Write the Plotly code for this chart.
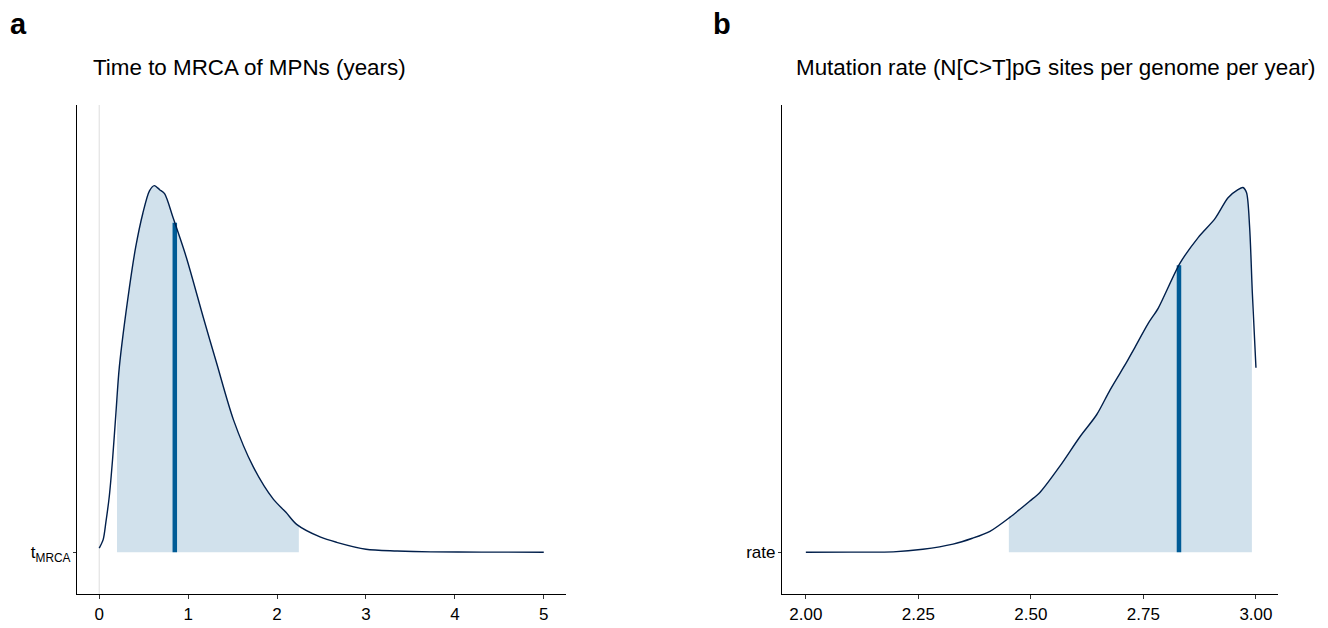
import numpy as np
import plotly.graph_objects as go
from plotly.subplots import make_subplots

# posterior density of time to MRCA (years), scaled height
tmrca_x = [0.0, 0.045, 0.075, 0.113, 0.15, 0.188, 0.226, 0.34, 0.41, 0.49, 0.565, 0.62,
           0.68, 0.735, 0.83, 0.98, 1.17, 1.32, 1.51, 1.73, 1.96, 2.10, 2.22, 2.49, 2.67,
           3.0, 3.35, 3.73, 4.3, 5.0]
tmrca_dens = [0.011, 0.035, 0.082, 0.152, 0.253, 0.380, 0.505, 0.723, 0.832, 0.924, 0.986,
              1.000, 0.989, 0.978, 0.913, 0.804, 0.641, 0.516, 0.361, 0.234, 0.144, 0.109,
              0.076, 0.041, 0.027, 0.008, 0.0035, 0.001, 0.0003, 0.0]
tmrca_interval = [0.20, 2.245]
tmrca_median = 0.85

# posterior density of mutation rate
rate_x = [2.0, 2.10, 2.194, 2.26, 2.327, 2.37, 2.409, 2.453, 2.497, 2.52, 2.564, 2.609,
          2.646, 2.676, 2.713, 2.728, 2.761, 2.783, 2.831, 2.872, 2.909, 2.938, 2.960,
          2.971, 2.979, 2.986, 2.992, 3.0]
rate_dens = [0.0, 0.0003, 0.001, 0.008, 0.022, 0.038, 0.057, 0.095, 0.139, 0.163, 0.234,
             0.315, 0.375, 0.443, 0.519, 0.552, 0.625, 0.666, 0.788, 0.859, 0.910, 0.967,
             0.989, 0.995, 0.981, 0.886, 0.707, 0.503]
rate_interval = [2.451, 2.991]
rate_median = 2.829

titles = ["Time to MRCA of MPNs (years)",
          "Mutation rate (N[C>T]pG sites per genome per year)"]
panel_tags = ["a", "b"]
param_labels = ["t<sub>MRCA</sub>", "rate"]

DARK = "#011f4b"
MID = "#005b96"
LIGHT = "#d1e1ec"
FONT = "Liberation Sans, Arial, sans-serif"

fig = make_subplots(rows=1, cols=2)


def add_area(col, xs, ys, interval, median):
    xs = np.asarray(xs)
    ys = np.asarray(ys)
    lo, hi = interval
    inside = (xs > lo) & (xs < hi)
    fx = np.concatenate([[lo], xs[inside], [hi]])
    fy = np.concatenate([[np.interp(lo, xs, ys)], ys[inside], [np.interp(hi, xs, ys)]])
    fig.add_trace(go.Scatter(x=fx, y=fy, mode="lines", fill="tozeroy",
                             fillcolor=LIGHT, line=dict(width=0, shape="spline", smoothing=0.8),
                             hoverinfo="skip", showlegend=False), row=1, col=col)
    mh = np.interp(median, xs, ys)
    fig.add_trace(go.Scatter(x=[median, median], y=[0, mh], mode="lines",
                             line=dict(color=MID, width=4.5), showlegend=False),
                  row=1, col=col)
    fig.add_trace(go.Scatter(x=xs, y=ys, mode="lines",
                             line=dict(color=DARK, width=1.4, shape="spline", smoothing=0.8),
                             showlegend=False), row=1, col=col)


add_area(1, tmrca_x, tmrca_dens, tmrca_interval, tmrca_median)
add_area(2, rate_x, rate_dens, rate_interval, rate_median)

# vertical reference line at zero
fig.add_shape(type="line", x0=0, x1=0, y0=0, y1=1, xref="x", yref="y domain",
              line=dict(color="#e3e3e3", width=1.2), layer="below")

# page has an 8px body margin, so figure coords = screen coords - 8
W, H = 1320, 620
ydom = [(H - 586) / H, (H - 97) / H]
yrange = [-0.114, 1.220]
axis_common = dict(showline=True, linecolor="black", linewidth=1.2, ticks="outside",
                   tickcolor="#333", tickwidth=1, showgrid=False, zeroline=False,
                   tickfont=dict(family=FONT, size=17, color="black"), automargin=False)

fig.update_layout(
    width=W, height=H, margin=dict(l=0, r=0, t=0, b=0),
    plot_bgcolor="white", paper_bgcolor="white",
    xaxis=dict(domain=[69 / W, 558 / W], range=[-0.25, 5.25], tickvals=[0, 1, 2, 3, 4, 5],
               ticklen=4, **axis_common),
    xaxis2=dict(domain=[774 / W, 1270 / W], range=[1.947, 3.049],
                tickvals=[2.0, 2.25, 2.5, 2.75, 3.0], ticktext=["2.00", "2.25", "2.50", "2.75", "3.00"],
                ticklen=4, **axis_common),
    yaxis=dict(domain=ydom, range=yrange, tickvals=[0], ticktext=[param_labels[0]],
               ticklen=3, ticklabelstandoff=-1, **axis_common),
    yaxis2=dict(domain=ydom, range=yrange, tickvals=[0], ticktext=[param_labels[1]],
                ticklen=3, ticklabelstandoff=-1, **axis_common),
)

for i, xpos in enumerate([83, 786]):
    fig.add_annotation(text=titles[i], x=xpos / W, y=(H - 59) / H, xref="paper", yref="paper",
                       xanchor="left", yanchor="middle", showarrow=False,
                       font=dict(family=FONT, size=22.4, color="black"))
for i, xpos in enumerate([0, 703]):
    fig.add_annotation(text="<b>" + panel_tags[i] + "</b>", x=xpos / W, y=(H - 16) / H,
                       xref="paper", yref="paper", xanchor="left", yanchor="middle",
                       showarrow=False, font=dict(family=FONT, size=29, color="black"))

fig.write_html("out.html")
